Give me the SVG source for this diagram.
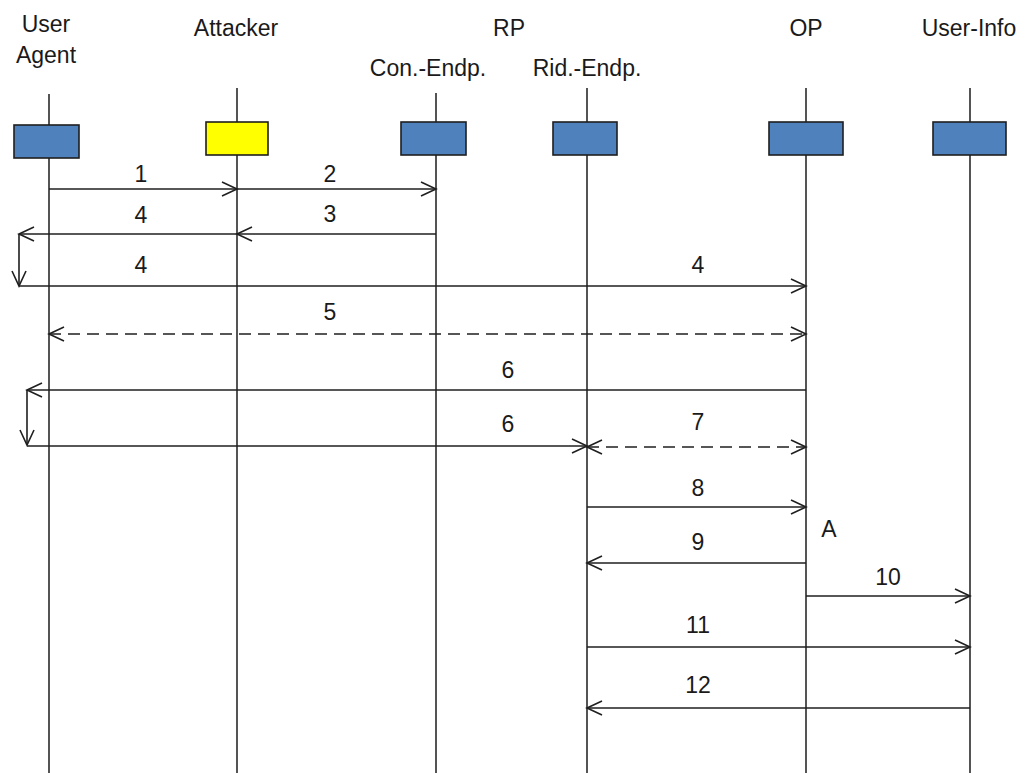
<svg xmlns="http://www.w3.org/2000/svg" width="1033" height="773" viewBox="0 0 1033 773">
  <style>
    text { font-family: "Liberation Sans", Arial, sans-serif; font-size: 23px; fill: #1a1a1a; text-anchor: middle; }
    .life { stroke: #2a2a2a; stroke-width: 1.6; fill: none; }
    .box { stroke: #1f1f1f; stroke-width: 1.6; }
    .blue { fill: #4f81bd; }
    .yellow { fill: #ffff00; }
    .msg { stroke: #1f1f1f; stroke-width: 1.6; fill: none; }
    .dash { stroke-dasharray: 12 7; }
    .end { marker-end: url(#open); }
    .both { marker-start: url(#open); marker-end: url(#open); }
  </style>
  <defs>
    <marker id="open" markerUnits="userSpaceOnUse" viewBox="-17 -9 19 18" refX="0" refY="0" markerWidth="19" markerHeight="18" orient="auto-start-reverse">
      <path d="M-15,-7 L0,0 L-15,7" fill="none" stroke="#1f1f1f" stroke-width="1.6"/>
    </marker>
  </defs>
  <rect width="1033" height="773" fill="#ffffff"/>

  <!-- participants: header labels, lifelines and activation boxes -->
  <g id="user-agent">
    <text x="46" y="32">User</text>
    <text x="46" y="63">Agent</text>
    <line class="life" x1="49" y1="94" x2="49" y2="773"/>
    <rect class="box blue" x="14" y="125" width="65" height="33"/>
  </g>
  <g id="attacker">
    <text x="236" y="36">Attacker</text>
    <line class="life" x1="237" y1="88" x2="237" y2="773"/>
    <rect class="box yellow" x="206" y="122" width="62" height="33"/>
  </g>
  <g id="rp-label">
    <text x="509" y="36">RP</text>
  </g>
  <g id="con-endp">
    <text x="428" y="76">Con.-Endp.</text>
    <line class="life" x1="436" y1="93" x2="436" y2="773"/>
    <rect class="box blue" x="401" y="122" width="65" height="33"/>
  </g>
  <g id="rid-endp">
    <text x="587" y="76">Rid.-Endp.</text>
    <line class="life" x1="587" y1="88" x2="587" y2="773"/>
    <rect class="box blue" x="553" y="122" width="64" height="33"/>
  </g>
  <g id="op">
    <text x="806" y="36">OP</text>
    <line class="life" x1="806" y1="88" x2="806" y2="773"/>
    <rect class="box blue" x="769" y="122" width="74" height="33"/>
  </g>
  <g id="user-info">
    <text x="969" y="36">User-Info</text>
    <line class="life" x1="970" y1="88" x2="970" y2="773"/>
    <rect class="box blue" x="933" y="122" width="73" height="33"/>
  </g>

  <!-- messages -->
  <g id="connectors">
    <line class="msg end" x1="49" y1="189" x2="237" y2="189"/>
    <line class="msg end" x1="237" y1="189" x2="436" y2="189"/>
    <line class="msg end" x1="436" y1="234" x2="237" y2="234"/>
    <line class="msg end" x1="237" y1="234" x2="19" y2="234"/>
    <line class="msg end" x1="19" y1="234" x2="19" y2="286"/>
    <line class="msg end" x1="19" y1="286" x2="806" y2="286"/>
    <line class="msg dash both" x1="49" y1="334" x2="806" y2="334"/>
    <line class="msg end" x1="806" y1="390" x2="27" y2="390"/>
    <line class="msg end" x1="27" y1="390" x2="27" y2="445"/>
    <line class="msg end" x1="27" y1="446" x2="587" y2="446"/>
    <line class="msg dash both" x1="587" y1="447" x2="806" y2="447"/>
    <line class="msg end" x1="587" y1="507" x2="806" y2="507"/>
    <line class="msg end" x1="806" y1="563" x2="587" y2="563"/>
    <line class="msg end" x1="806" y1="596" x2="970" y2="596"/>
    <line class="msg end" x1="587" y1="647" x2="970" y2="647"/>
    <line class="msg end" x1="970" y1="708" x2="587" y2="708"/>
  </g>

  <!-- message numbers -->
  <g id="labels">
    <text x="141" y="182">1</text>
    <text x="330" y="182">2</text>
    <text x="141" y="223">4</text>
    <text x="330" y="222">3</text>
    <text x="141" y="273">4</text>
    <text x="698" y="273">4</text>
    <text x="330" y="320">5</text>
    <text x="508" y="378">6</text>
    <text x="508" y="432">6</text>
    <text x="698" y="430">7</text>
    <text x="698" y="496">8</text>
    <text x="698" y="550">9</text>
    <text x="829" y="537">A</text>
    <text x="888" y="585">10</text>
    <text x="698" y="633">11</text>
    <text x="698" y="693">12</text>
  </g>
</svg>
